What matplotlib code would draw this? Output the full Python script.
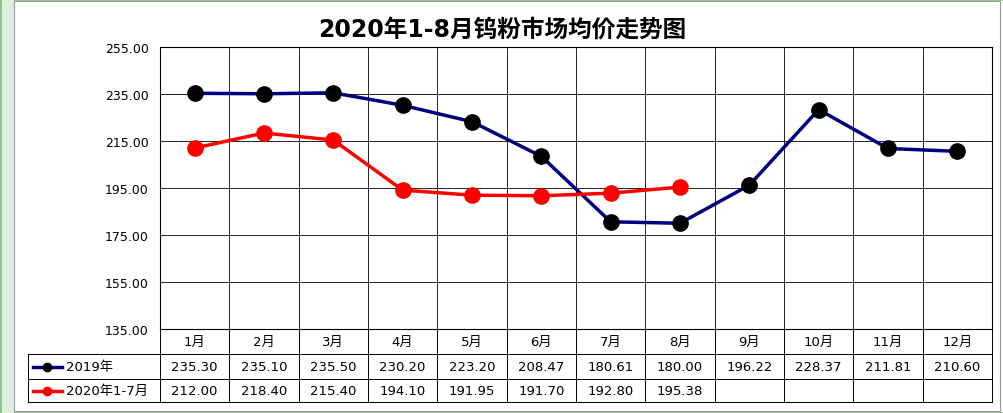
import numpy as np
import matplotlib
matplotlib.use("Agg")
from matplotlib import pyplot as plt
from matplotlib.lines import Line2D

plt.rcParams["font.family"] = ["DejaVu Sans", "Noto Sans CJK SC", "Noto Sans CJK JP", "Noto Sans CJK TC"]

months = ["1月", "2月", "3月", "4月", "5月", "6月", "7月", "8月", "9月", "10月", "11月", "12月"]
y2019 = [235.30, 235.10, 235.50, 230.20, 223.20, 208.47, 180.61, 180.00, 196.22, 228.37, 211.81, 210.60]
y2020 = [212.00, 218.40, 215.40, 194.10, 191.95, 191.70, 192.80, 195.38]
name2019 = "2019年"
name2020 = "2020年1-7月"
title = "2020年1-8月钨粉市场均价走势图"

W, H = 1004, 414
fig = plt.figure(figsize=(W / 100, H / 100), dpi=100)

# rama arkusza (pod osiami)
for p in [plt.Rectangle((0, 0), 1, 1, transform=fig.transFigure, fill=False, edgecolor="#8fbf8f", lw=2),
          plt.Rectangle((2 / W, 0), 12 / W, 1, transform=fig.transFigure, facecolor="#dfeedd", edgecolor="none"),
          plt.Rectangle((14 / W, 2 / H), (W - 18) / W, (H - 4) / H, transform=fig.transFigure,
                        facecolor="white", edgecolor="#999999", lw=0.8)]:
    p.set_zorder(-10)
    fig.patches.append(p)

x0, x1 = 160, 992
yt, yb = 48, 330
ax = fig.add_axes([x0 / W, 1 - yb / H, (x1 - x0) / W, (yb - yt) / H])
ax.set_zorder(5)
ax.patch.set_alpha(0)
n = len(months)
x = np.arange(n)

ax.plot(x, y2019, color="#000080", lw=2.5, marker="o", ms=11, mfc="black", mec="black", zorder=3)
ax.plot(x[:len(y2020)], y2020, color="#ff0000", lw=2.5, marker="o", ms=11, mfc="#ff0000", mec="#ff0000", zorder=3)

ax.set_xlim(-0.5, n - 0.5)
ax.set_ylim(135, 255)
ax.set_yticks(np.arange(135, 256, 20))
ax.set_yticklabels([f"{v:.2f}" for v in np.arange(135, 256, 20)], fontsize=9)
ax.set_xticks([])
ax.grid(axis="y", color="black", lw=0.6)
for b in np.arange(-0.5, n, 1):
    ax.axvline(b, color="black", lw=0.6)
for s in ax.spines.values():
    s.set_linewidth(0.8)
ax.tick_params(axis="y", length=0, pad=8)

fig.text(0.5, 1 - 30 / H, title, ha="center", va="center", fontsize=17, fontweight="bold")

# tabela danych
rows = [330, 355, 380, 403]
tx0 = 28
def fy(p):
    return 1 - p / H
for r in rows:
    left = x0 if r == rows[0] else tx0
    fig.add_artist(Line2D([left / W, x1 / W], [fy(r), fy(r)], color="black", lw=0.7))
fig.add_artist(Line2D([tx0 / W, tx0 / W], [fy(rows[1]), fy(rows[3])], color="black", lw=0.7))
colw = (x1 - x0) / n
for i in range(n + 1):
    xx = x0 + i * colw
    fig.add_artist(Line2D([xx / W, xx / W], [fy(rows[0]), fy(rows[3])], color="black", lw=0.7))

for i, m in enumerate(months):
    cx = (x0 + (i + 0.5) * colw) / W
    fig.text(cx, fy((rows[0] + rows[1]) / 2), m, ha="center", va="center", fontsize=9.5)
    fig.text(cx, fy((rows[1] + rows[2]) / 2), f"{y2019[i]:.2f}", ha="center", va="center", fontsize=9.5)
    if i < len(y2020):
        fig.text(cx, fy((rows[2] + rows[3]) / 2), f"{y2020[i]:.2f}", ha="center", va="center", fontsize=9.5)

for k, (nm, col, mc) in enumerate([(name2019, "#000080", "black"), (name2020, "#ff0000", "#ff0000")]):
    yy = fy((rows[1 + k] + rows[2 + k]) / 2)
    fig.add_artist(Line2D([33 / W, 62 / W], [yy, yy], color=col, lw=2.5))
    fig.add_artist(Line2D([47 / W], [yy], marker="o", ms=6, color=mc))
    fig.text(66 / W, yy, nm, ha="left", va="center", fontsize=9.5)

fig.savefig("out.png", dpi=100)
